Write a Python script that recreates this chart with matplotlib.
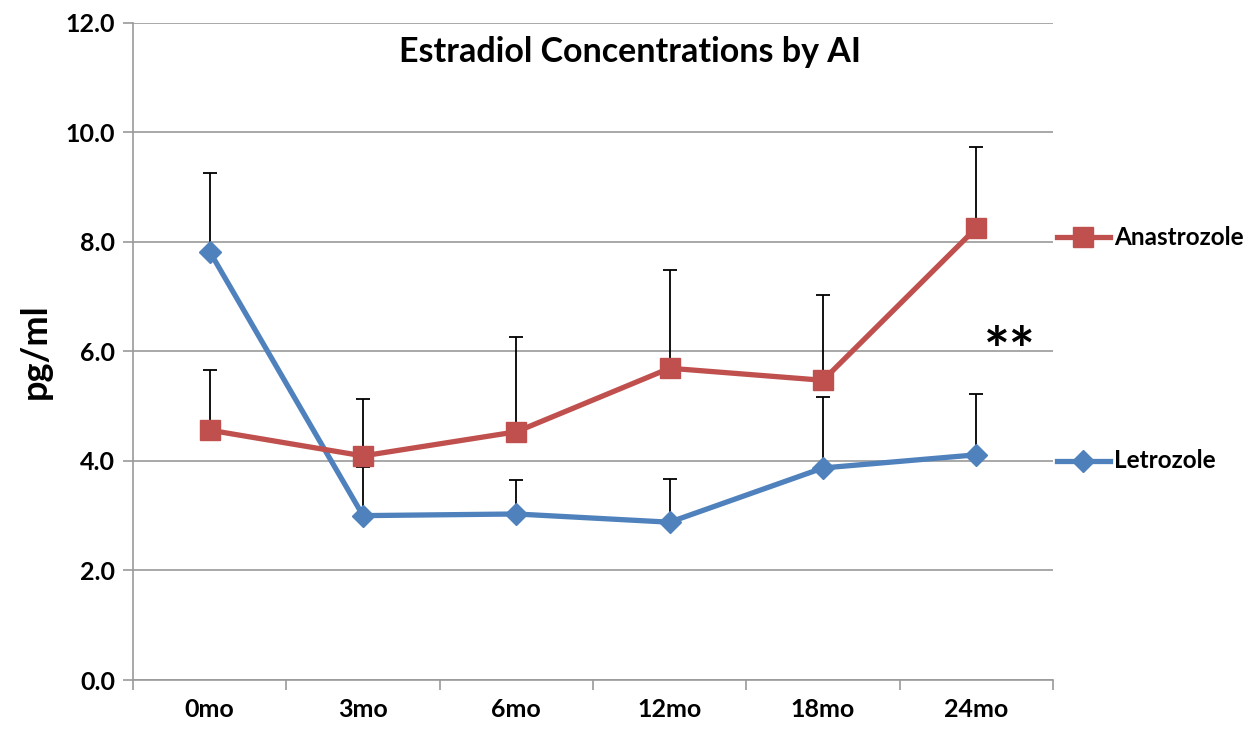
import matplotlib.pyplot as plt
import numpy as np
from matplotlib.lines import Line2D
from matplotlib import transforms

plt.rcParams['font.family'] = ['Lato', 'DejaVu Sans']
plt.rcParams['font.weight'] = 'bold'

months = ['0mo', '3mo', '6mo', '12mo', '18mo', '24mo']
anastrozole = [4.56, 4.09, 4.53, 5.69, 5.47, 8.25]
anastrozole_top = [5.66, 5.13, 6.26, 7.48, 7.03, 9.73]
letrozole = [7.82, 3.00, 3.03, 2.88, 3.87, 4.11]
letrozole_top = [9.25, 3.88, 3.65, 3.67, 5.16, 5.22]

red = '#C0504D'
blue = '#4F81BD'
grid_c = '#9a9a9a'

fig = plt.figure(figsize=(12.58, 7.41), dpi=100)
ax = fig.add_axes([133 / 1258, 1 - 680 / 741, 920 / 1258, 657.5 / 741])

x = np.arange(len(months))
ana_err = np.array(anastrozole_top) - np.array(anastrozole)
let_err = np.array(letrozole_top) - np.array(letrozole)

# error bars (upper only), drawn under the lines
ax.errorbar(x, anastrozole, yerr=[np.zeros(len(x)), ana_err], fmt='none',
            ecolor='black', elinewidth=1.3, capsize=5, capthick=1.3, zorder=2)
ax.errorbar(x, letrozole, yerr=[np.zeros(len(x)), let_err], fmt='none',
            ecolor='black', elinewidth=1.3, capsize=5, capthick=1.3, zorder=2)

ax.plot(x, letrozole, color=blue, lw=3.8, marker='D', ms=11, zorder=3)
ax.plot(x, anastrozole, color=red, lw=3.8, marker='s', ms=14, zorder=4)

ax.set_xlim(-0.5, 5.5)
ax.set_ylim(0, 12)
ax.set_yticks(np.arange(0, 13, 2))
ax.set_yticklabels([f'{v:.1f}' for v in np.arange(0, 13, 2)], fontsize=18)
ax.yaxis.grid(True, color=grid_c, lw=1.2)
ax.set_axisbelow(True)

# category boundaries as ticks, labels at centers
ax.set_xticks(np.arange(-0.5, 6, 1))
ax.set_xticklabels([])
ax.set_xticks(x, minor=True)
ax.set_xticklabels(months, minor=True, fontsize=18)
ax.tick_params(axis='x', which='minor', length=0, pad=13)
ax.tick_params(axis='x', which='major', length=7, color=grid_c, width=1.2)
ax.tick_params(axis='y', length=7, color=grid_c, width=1.2, pad=6)

for s in ['top', 'right']:
    ax.spines[s].set_visible(False)
for s in ['left', 'bottom']:
    ax.spines[s].set_color(grid_c)
    ax.spines[s].set_linewidth(1.2)

ax.set_ylabel('pg/ml', fontsize=26, fontweight='bold', labelpad=10)
ax.text(0.54, 0.955, 'Estradiol Concentrations by AI', transform=ax.transAxes,
        ha='center', va='center', fontsize=24.5, fontweight='bold')
ax.text(5.22, 5.95, '**', ha='center', va='center', fontsize=44, fontweight='bold')

# legend placed next to the lines, outside the axes
tr = transforms.blended_transform_factory(ax.transAxes, ax.transData)
for name, yv, col, mk, ms in [('Anastrozole', 8.08, red, 's', 14),
                              ('Letrozole', 4.0, blue, 'D', 11)]:
    ax.add_line(Line2D([1.004, 1.062], [yv, yv], transform=tr, color=col, lw=3.8,
                       clip_on=False))
    ax.add_line(Line2D([1.033], [yv], transform=tr, color=col, marker=mk, ms=ms,
                       clip_on=False))
    ax.text(1.066, yv, name, transform=tr, ha='left', va='center', fontsize=17.5,
            fontweight='bold')

fig.savefig('out.png', dpi=100)
